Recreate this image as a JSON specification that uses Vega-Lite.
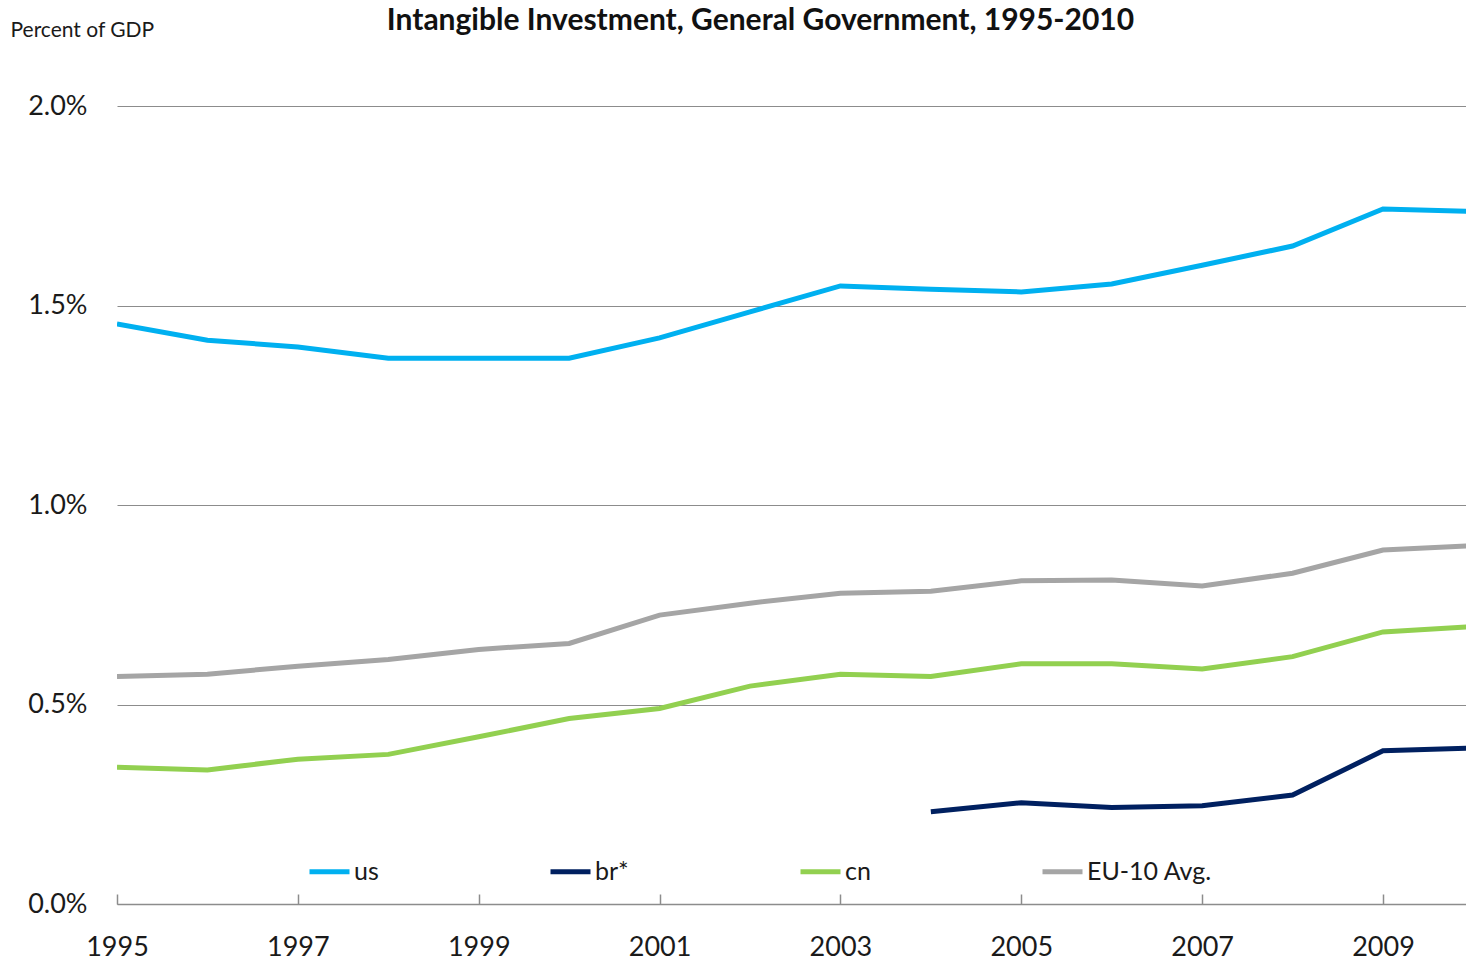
{
  "$schema": "https://vega.github.io/schema/vega-lite/v6.json",
  "autosize": "none",
  "width": 1349,
  "height": 798,
  "padding": {"left": 117, "top": 106, "right": 0, "bottom": 57},
  "background": "white",
  "config": {"view": {"stroke": null}, "font": "Lato"},
  "title": {
    "text": "Intangible  Investment, General Government,  1995-2010",
    "anchor": "middle",
    "frame": "group",
    "dx": -31,
    "dy": 27,
    "font": "Lato",
    "fontSize": 30,
    "fontWeight": "bold",
    "color": "#111111",
    "offset": 10
  },
  "data": {
    "values": [
      {"year": 1995, "series": "us", "value": 1.454},
      {"year": 1996, "series": "us", "value": 1.413},
      {"year": 1997, "series": "us", "value": 1.396},
      {"year": 1998, "series": "us", "value": 1.368},
      {"year": 1999, "series": "us", "value": 1.368},
      {"year": 2000, "series": "us", "value": 1.368},
      {"year": 2001, "series": "us", "value": 1.419},
      {"year": 2002, "series": "us", "value": 1.484},
      {"year": 2003, "series": "us", "value": 1.549},
      {"year": 2004, "series": "us", "value": 1.541},
      {"year": 2005, "series": "us", "value": 1.534},
      {"year": 2006, "series": "us", "value": 1.554},
      {"year": 2007, "series": "us", "value": 1.601},
      {"year": 2008, "series": "us", "value": 1.649},
      {"year": 2009, "series": "us", "value": 1.742},
      {"year": 2010, "series": "us", "value": 1.736},
      {"year": 2004, "series": "br*", "value": 0.231},
      {"year": 2005, "series": "br*", "value": 0.254},
      {"year": 2006, "series": "br*", "value": 0.242},
      {"year": 2007, "series": "br*", "value": 0.246},
      {"year": 2008, "series": "br*", "value": 0.273},
      {"year": 2009, "series": "br*", "value": 0.384},
      {"year": 2010, "series": "br*", "value": 0.391},
      {"year": 1995, "series": "cn", "value": 0.343},
      {"year": 1996, "series": "cn", "value": 0.336},
      {"year": 1997, "series": "cn", "value": 0.363},
      {"year": 1998, "series": "cn", "value": 0.375},
      {"year": 1999, "series": "cn", "value": 0.419},
      {"year": 2000, "series": "cn", "value": 0.465},
      {"year": 2001, "series": "cn", "value": 0.490},
      {"year": 2002, "series": "cn", "value": 0.546},
      {"year": 2003, "series": "cn", "value": 0.576},
      {"year": 2004, "series": "cn", "value": 0.570},
      {"year": 2005, "series": "cn", "value": 0.602},
      {"year": 2006, "series": "cn", "value": 0.602},
      {"year": 2007, "series": "cn", "value": 0.589},
      {"year": 2008, "series": "cn", "value": 0.620},
      {"year": 2009, "series": "cn", "value": 0.682},
      {"year": 2010, "series": "cn", "value": 0.695},
      {"year": 1995, "series": "EU-10 Avg.", "value": 0.570},
      {"year": 1996, "series": "EU-10 Avg.", "value": 0.576},
      {"year": 1997, "series": "EU-10 Avg.", "value": 0.596},
      {"year": 1998, "series": "EU-10 Avg.", "value": 0.613},
      {"year": 1999, "series": "EU-10 Avg.", "value": 0.638},
      {"year": 2000, "series": "EU-10 Avg.", "value": 0.653},
      {"year": 2001, "series": "EU-10 Avg.", "value": 0.724},
      {"year": 2002, "series": "EU-10 Avg.", "value": 0.754},
      {"year": 2003, "series": "EU-10 Avg.", "value": 0.779},
      {"year": 2004, "series": "EU-10 Avg.", "value": 0.784},
      {"year": 2005, "series": "EU-10 Avg.", "value": 0.810},
      {"year": 2006, "series": "EU-10 Avg.", "value": 0.812},
      {"year": 2007, "series": "EU-10 Avg.", "value": 0.797},
      {"year": 2008, "series": "EU-10 Avg.", "value": 0.829},
      {"year": 2009, "series": "EU-10 Avg.", "value": 0.887},
      {"year": 2010, "series": "EU-10 Avg.", "value": 0.898}
    ]
  },
  "mark": {"type": "line", "strokeWidth": 5, "clip": true},
  "encoding": {
    "x": {
      "field": "year",
      "type": "quantitative",
      "scale": {"domain": [1995, 2009.918], "nice": false, "zero": false},
      "axis": {
        "title": null,
        "values": [1995, 1997, 1999, 2001, 2003, 2005, 2007, 2009],
        "format": "d",
        "grid": false,
        "domainColor": "#8c8c8c",
        "domainWidth": 1.5,
        "tickColor": "#8c8c8c",
        "tickWidth": 1.5,
        "tickSize": -10,
        "labelPadding": 40,
        "labelFont": "Lato",
        "labelFontSize": 27,
        "labelColor": "#1a1a1a",
        "labelFlush": false,
        "labelOverlap": false
      }
    },
    "y": {
      "field": "value",
      "type": "quantitative",
      "scale": {"domain": [0, 2.0], "nice": false},
      "axis": {
        "title": "Percent of GDP",
        "titleAngle": 0,
        "titleAlign": "left",
        "titleBaseline": "alphabetic",
        "titleX": -107,
        "titleY": -70,
        "titleFont": "Lato",
        "titleFontSize": 21,
        "titleFontWeight": "normal",
        "titleColor": "#1a1a1a",
        "values": [0, 0.5, 1.0, 1.5, 2.0],
        "labelExpr": "format(datum.value, '.1f') + '%'",
        "domain": false,
        "ticks": false,
        "grid": true,
        "gridColor": "#8c8c8c",
        "gridWidth": 1.2,
        "labelPadding": 30,
        "labelFont": "Lato",
        "labelFontSize": 27,
        "labelColor": "#1a1a1a"
      }
    },
    "color": {
      "field": "series",
      "type": "nominal",
      "sort": ["us", "br*", "cn", "EU-10 Avg."],
      "scale": {
        "domain": ["us", "br*", "cn", "EU-10 Avg."],
        "range": ["#00B0F0", "#002060", "#92D050", "#A5A5A5"]
      },
      "legend": {
        "title": null,
        "orient": "none",
        "direction": "horizontal",
        "legendX": 190,
        "legendY": 743,
        "symbolType": "stroke",
        "symbolSize": 1600,
        "symbolStrokeWidth": 5,
        "labelFont": "Lato",
        "labelFontSize": 25,
        "labelColor": "#1a1a1a",
        "labelOffset": 2,
        "columnPadding": 161,
        "labelLimit": 300
      }
    }
  }
}
